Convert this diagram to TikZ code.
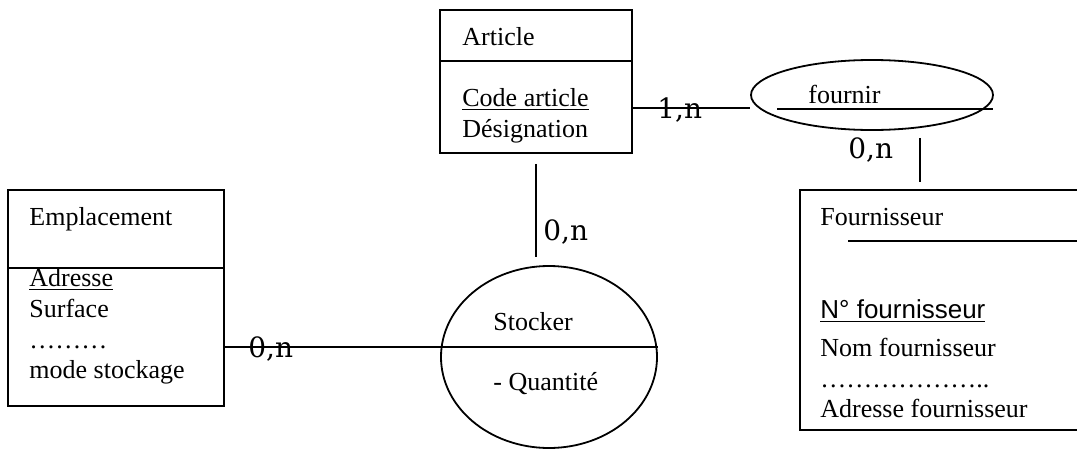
\documentclass[tikz,border=0pt]{standalone}
\usepackage{fontspec}
\newfontfamily\timesfont{Liberation Serif}
\newfontfamily\arialfont{Liberation Sans}
\newfontfamily\cardfont{DejaVu Serif}
\usetikzlibrary{shapes.geometric,calc}
\tikzset{
  entite/.style={draw,rectangle,line width=0.9pt,inner sep=0pt},
  assoc/.style={draw,ellipse,line width=0.9pt,inner sep=0pt},
  attr/.style={anchor=base west,inner sep=0pt,font=\timesfont\fontsize{13}{15}\selectfont},
  card/.style={anchor=base west,inner sep=0pt,font=\cardfont\fontsize{14}{17}\selectfont},
  lien/.style={line width=0.9pt},
}
\begin{document}
\begin{tikzpicture}[x=0.5pt,y=-0.5pt]
    \clip (0,0) rectangle (1077,450);
    %% Entites
    \node[entite,minimum width=96pt,minimum height=71.5pt] (article) at (536,81.5) {};
    \node[entite,minimum width=108pt,minimum height=108pt] (emplacement) at (116,298) {};
    \node[entite,minimum width=141pt,minimum height=120pt] (fournisseur) at (941,310) {};
    \draw[lien] (article.west |- 0,61) -- (article.east |- 0,61);
    \draw[lien] (emplacement.west |- 0,268) -- (emplacement.east |- 0,268);
    \draw[lien] (848,241) -- (fournisseur.east |- 0,241);
    %% Associations
    \node[assoc,minimum width=121pt,minimum height=35pt] (fournir) at (872,95) {};
    \node[assoc,minimum width=108pt,minimum height=91pt] (stocker) at (549,357) {};
    \draw[lien] (777,109) -- (993,109);
    %% Liens
    \draw[lien] (article.east |- 0,108) -- (fournir.west |- 0,108);
    \draw[lien,shorten <=5pt,shorten >=4pt] (article.south) -- (article.south |- stocker.north);
    \coordinate (fx) at (920,0);
    \draw[lien,shorten <=3.5pt,shorten >=3.5pt] (fournir.south -| fx) -- (fournisseur.north -| fx);
    \draw[lien] (emplacement.east |- 0,347) -- (stocker.east |- 0,347);
    %% Textes
    \node[attr] (tarticle) at (462,45) {Article};
    \node[attr] (tcode) at (462,106) {\underline{Code article}};
    \node[attr] (tdesig) at (462,137) {Désignation};
    \node[attr] (templ) at (29,225) {Emplacement};
    \node[attr] (tadr) at (29,286) {\underline{Adresse}};
    \node[attr] (tsurf) at (29,317) {Surface};
    \node[attr] (tdots) at (29,348) {………};
    \node[attr] (tmode) at (29,378) {mode stockage};
    \node[attr] (tfourn) at (820,225) {Fournisseur};
    \node[attr,font=\arialfont\fontsize{13}{15}\selectfont] (tnum) at (820,318) {\underline{N° fournisseur}};
    \node[attr] (tnom) at (820,356) {Nom fournisseur};
    \node[attr] (tdots2) at (820,387) {………………..};
    \node[attr] (tadrf) at (820,417) {Adresse fournisseur};
    \node[attr] (tfournir) at (808,103) {fournir};
    \node[attr] (tstocker) at (493,330) {Stocker};
    \node[attr] (tquant) at (493,390) {- Quantité};
    %% Cardinalites
    \node[card] (c1) at (657,118) {1,n};
    \node[card] (c2) at (543,240) {0,n};
    \node[card] (c3) at (848,158) {0,n};
    \node[card] (c4) at (248,357) {0,n};
\end{tikzpicture}
\end{document}
